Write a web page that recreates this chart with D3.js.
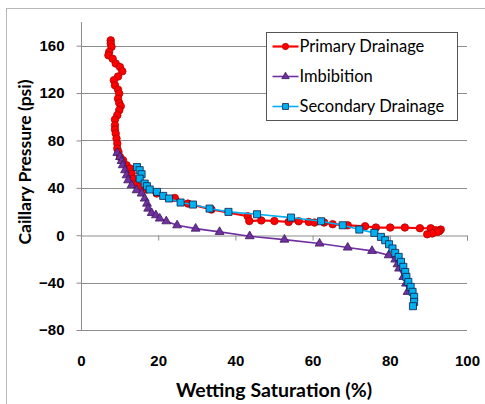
<!DOCTYPE html>
<html>
<head>
<meta charset="utf-8">
<script src="https://cdn.jsdelivr.net/npm/d3@7"></script>
<style>
  body { margin: 0; background: #fff; }
  svg { font-family: Lato, "Open Sans", sans-serif; }
  .tick text { font-weight: bold; font-size: 15px; fill: #000; }
</style>
</head>
<body>
<div id="chart"></div>
<script>
// Primary drainage
var satPrimary = [7.7, 7.7, 7.9, 7.3, 7.1, 8.2, 9.0, 10.1, 10.7, 9.6, 8.5, 8.8, 9.6, 9.9, 9.6, 9.9, 10.3, 9.9, 9.4, 8.8,
  8.8, 8.8, 9.0, 9.2, 9.4, 9.4, 9.7, 10.1, 10.9, 11.8, 12.7, 13.1, 13.5, 14.2, 15.2, 17.0, 19.6, 24.3, 27.7, 33.8,
  43.2, 43.6, 46.7, 50.1, 53.8, 56.4, 59.0, 60.5, 63.0, 65.2, 69.1, 73.6, 76.4, 80.1, 83.9, 87.8, 90.6, 91.9, 93.2, 92.8,
  92.3, 91.0, 89.7];
var pcPrimary = [164.5, 161.8, 159, 154.7, 151.9, 149, 144.9, 142, 138.4, 134, 130.8, 126.6, 122.9, 119.6, 115.3, 111.7, 108.9, 105.5, 101.3, 97.6,
  92.8, 89.2, 85.8, 81.6, 77.4, 73.2, 70.3, 66.1, 63.3, 59.1, 56.3, 52.1, 47.8, 43.6, 40.8, 38.6, 35.2, 31.5, 26.7, 21.7,
  16, 12, 12.5, 12, 11.2, 11.8, 11.2, 10.7, 10.7, 9.3, 8.4, 7.6, 6.5, 6.5, 6.5, 5.9, 5.9, 4.2, 4.8, 3.4,
  2.8, 1.5, 0.8];

// Imbibition
var satImb = [9.4, 10.1, 10.5, 10.8, 11.4, 11.8, 12.2, 13.1, 14.4, 15.7, 16.5, 17.1, 17.4, 18.3, 19.4, 20.4, 22.1, 24.9, 29.7, 35.9,
  43.7, 52.7, 61.8, 69.1, 75.4, 79.7, 81.4, 82.0, 82.4, 83.5, 84.2, 84.6];
var pcImb = [69.5, 66.1, 62.7, 59.1, 54.9, 50.6, 46.4, 42.2, 38, 35.2, 31, 26.7, 22.5, 18.8, 16.9, 14.1, 11.8, 8.4, 5.6, 2.8,
  -0.8, -3.7, -7, -10.4, -13.2, -16.9, -20.5, -24.5, -28.1, -35.2, -40.8, -47.8];

// Secondary drainage
var satSec = [14.5, 15.2, 15.7, 15.2, 16.5, 17.1, 17.8, 19.7, 21.3, 22.8, 25.8, 29.0, 33.3, 38.2, 45.6, 54.4, 62.2, 67.8, 72.1, 76.0,
  77.7, 78.8, 79.8, 80.7, 81.4, 82.3, 82.9, 83.5, 84.0, 84.3, 84.8, 85.4, 85.9, 86.3, 86.3, 86.0];
var pcSec = [57.6, 54.9, 51.5, 47.8, 43.6, 41.4, 38.6, 36.6, 33.2, 31, 27.6, 25.9, 22.5, 19.7, 17.7, 14.9, 11.8, 8.4, 4.8, 2.0,
  -1.4, -4.2, -7.6, -11.2, -14.9, -18.3, -22.5, -26.7, -31, -35.2, -39.4, -43.6, -47.8, -52, -56.3, -59.9];

var xTicks = [0, 20, 40, 60, 80, 100];
var yTicks = [-80, -40, 0, 40, 80, 120, 160];

var width = 485;
var height = 404;
var plotLeft = 81, plotRight = 467, plotTop = 22, plotBottom = 330;

var svg = d3.select('#chart').append('svg')
  .attr('width', width)
  .attr('height', height);

// chart area border
svg.append('rect')
  .attr('x', 6.5)
  .attr('y', 8.5)
  .attr('width', 490)
  .attr('height', 410)
  .attr('fill', 'none')
  .attr('stroke', '#b8b8b8');

var x = d3.scaleLinear().domain([0, 100]).range([plotLeft, plotRight]);
var y = d3.scaleLinear().domain([-80, 180]).range([plotBottom, plotTop]);

// gridlines
svg.append('g')
  .selectAll('line')
  .data(yTicks.filter(function(d) { return d !== 0; }))
  .enter()
  .append('line')
  .attr('x1', plotLeft)
  .attr('x2', plotRight)
  .attr('y1', function(d) { return Math.round(y(d)) + 0.5; })
  .attr('y2', function(d) { return Math.round(y(d)) + 0.5; })
  .attr('stroke', '#8c8c8c');

// y axis
var yAxis = svg.append('g')
  .attr('transform', 'translate(' + (plotLeft + 0.5) + ',0)')
  .call(d3.axisLeft(y).tickValues(yTicks).tickSize(5).tickPadding(12));
yAxis.select('.domain').attr('stroke', '#8c8c8c').attr('d', 'M0,' + plotTop + 'V' + plotBottom);
yAxis.selectAll('.tick line').attr('stroke', '#8c8c8c');

// x axis crossing at y = 0
var xAxis = svg.append('g')
  .attr('transform', 'translate(0,' + (Math.round(y(0)) + 0.5) + ')')
  .call(d3.axisBottom(x).tickValues(xTicks).tickSize(5).tickSizeOuter(5));
xAxis.select('.domain').attr('stroke', '#8c8c8c');
xAxis.selectAll('.tick line').attr('stroke', '#8c8c8c');
xAxis.selectAll('.tick text')
  .attr('y', plotBottom - y(0) + 25);

// axis titles
svg.append('text')
  .attr('x', 274)
  .attr('y', 397)
  .attr('text-anchor', 'middle')
  .style('font-weight', 'bold')
  .style('font-size', '19.5px')
  .text('Wetting Saturation (%)');

svg.append('text')
  .attr('transform', 'translate(31,162) rotate(-90)')
  .attr('text-anchor', 'middle')
  .style('font-weight', 'bold')
  .style('font-size', '17.5px')
  .text('Caillary Pressure (psi)');

function zipSeries(sat, pc) {
  return sat.map(function(s, i) { return {s: s, p: pc[i]}; });
}

var series = [
  {name: 'Primary Drainage', data: zipSeries(satPrimary, pcPrimary), color: '#ff0000', edge: '#b00000', shape: 'circle', width: 2.2},
  {name: 'Imbibition', data: zipSeries(satImb, pcImb), color: '#7030a0', edge: '#3c1a5c', shape: 'triangle', width: 1.6},
  {name: 'Secondary Drainage', data: zipSeries(satSec, pcSec), color: '#00b0f0', edge: '#10204a', shape: 'square', width: 1.6}
];

var line = d3.line()
  .x(function(d) { return x(d.s); })
  .y(function(d) { return y(d.p); });

function marker(sel, sr, size) {
  var sym = sr.shape === 'circle' ? d3.symbolCircle : (sr.shape === 'triangle' ? d3.symbolTriangle : d3.symbolSquare);
  sel.attr('d', d3.symbol().type(sym).size(size))
    .attr('fill', sr.color)
    .attr('stroke', sr.edge)
    .attr('stroke-width', 0.8);
}

var sizes = {circle: 44, triangle: 34, square: 50};

series.forEach(function(sr) {
  var g = svg.append('g');
  g.append('path')
    .datum(sr.data)
    .attr('d', line)
    .attr('fill', 'none')
    .attr('stroke', sr.color)
    .attr('stroke-width', sr.width);
  g.selectAll('path.pt')
    .data(sr.data)
    .enter()
    .append('path')
    .attr('class', 'pt')
    .attr('transform', function(d) { return 'translate(' + x(d.s) + ',' + y(d.p) + ')'; })
    .call(marker, sr, sizes[sr.shape]);
});

// legend
var lg = svg.append('g').attr('transform', 'translate(266.5,32.5)');
lg.append('rect')
  .attr('width', 191)
  .attr('height', 88)
  .attr('fill', '#fff')
  .attr('stroke', '#555');

var items = lg.selectAll('g.item')
  .data(series)
  .enter()
  .append('g')
  .attr('class', 'item')
  .attr('transform', function(d, i) { return 'translate(0,' + (14 + i * 30) + ')'; });

items.append('line')
  .attr('x1', 6)
  .attr('x2', 32)
  .attr('stroke', function(d) { return d.color; })
  .attr('stroke-width', function(d) { return d.width; });

items.append('path')
  .attr('transform', 'translate(19,0)')
  .each(function(d) { d3.select(this).call(marker, d, sizes[d.shape] * 0.7); });

items.append('text')
  .attr('x', 33)
  .attr('dy', '0.35em')
  .style('font-size', '16.5px')
  .text(function(d) { return d.name; });
</script>
</body>
</html>
